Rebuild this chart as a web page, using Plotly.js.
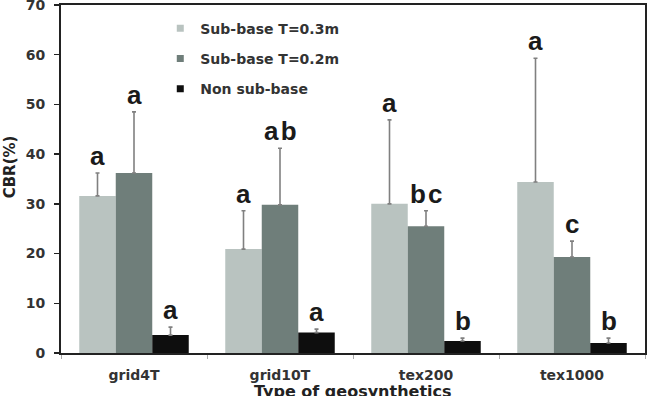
<!DOCTYPE html>
<html>
<head>
<meta charset="utf-8">
<script src="https://cdn.plot.ly/plotly-3.0.1.min.js"></script>
<style>
  html, body { margin: 0; padding: 0; background: #fff; }
  #chart { width: 651px; height: 396px; }
</style>
</head>
<body>
<div id="chart"></div>
<script>
// Geosynthetic types on the x axis
const categories = ['grid4T', 'grid10T', 'tex200', 'tex1000'];

// Series names
const seriesNames = ['Sub-base T=0.3m', 'Sub-base T=0.2m', 'Non sub-base'];

// Mean CBR (%) per series
const cbrThick = [31.6, 20.9, 30.0, 34.4];
const cbrThin = [36.2, 29.8, 25.5, 19.3];
const cbrNone = [3.6, 4.1, 2.4, 2.0];

// Upper error (standard deviation) per series
const errThick = [4.6, 7.7, 16.9, 24.9];
const errThin = [12.3, 11.4, 3.1, 3.2];
const errNone = [1.6, 0.7, 0.6, 1.0];

// Significance groupings printed over each bar
const sigThick = ['a', 'a', 'a', 'a'];
const sigThin = ['a', 'ab', 'bc', 'c'];
const sigNone = ['a', 'a', 'b', 'b'];

const colors = ['#b9c3c0', '#6f7e7a', '#0e0e0e'];
const errColor = '#808080';

const means = [cbrThick, cbrThin, cbrNone];
const errs = [errThick, errThin, errNone];
const sigs = [sigThick, sigThin, sigNone];

const traces = [];
means.forEach((vals, s) => {
  traces.push({
    type: 'bar',
    name: seriesNames[s],
    x: categories,
    y: vals,
    marker: { color: colors[s], line: { width: 0 } },
    error_y: {
      type: 'data', array: errs[s], arrayminus: vals.map(() => 0),
      symmetric: false, color: errColor, thickness: 1.6, width: 2
    },
    showlegend: false,
    hoverinfo: 'x+y'
  });
});

// Legend entries with small square swatches
seriesNames.forEach((name, s) => {
  traces.push({
    type: 'scatter', mode: 'markers', name: name,
    x: [null], y: [null],
    marker: { symbol: 'square', size: 7, color: colors[s] },
    legendgroup: 'g' + s,
    hoverinfo: 'skip'
  });
});

// Letters above each error bar, positioned on the category axis
const barWidth = 0.25;
const annotations = [];
means.forEach((vals, s) => {
  const offset = (s - 1) * barWidth;
  vals.forEach((v, i) => {
    annotations.push({
      xref: 'x', yref: 'y',
      x: i + offset, y: v + errs[s][i],
      text: sigs[s][i].split('').join('\u200A'),
      showarrow: false,
      yanchor: 'bottom', yshift: 0,
      font: { family: 'Liberation Sans, Arial, sans-serif', size: 26, color: '#1a1a1a', weight: 'bold' }
    });
  });
});

// Y axis label, rotated, to the left of the tick labels
annotations.push({
  xref: 'paper', yref: 'paper',
  x: -0.087, y: 0.534,
  text: 'CBR(%)', textangle: -90, showarrow: false,
  xanchor: 'center', yanchor: 'middle',
  font: { family: 'DejaVu Sans, sans-serif', size: 15, color: '#222', weight: 'bold' }
});

// X axis label, below the category names at the bottom edge
annotations.push({
  xref: 'paper', yref: 'paper',
  x: 0.5, y: -0.077,
  text: 'Type of geosynthetics', showarrow: false,
  xanchor: 'center', yanchor: 'top',
  font: { family: 'DejaVu Sans, sans-serif', size: 16, color: '#222', weight: 'bold' }
});

const tickFont = { family: 'DejaVu Sans, sans-serif', size: 14, color: '#333', weight: 'bold' };

const layout = {
  width: 651, height: 396,
  margin: { l: 61, r: 6, t: 5, b: 43 },
  paper_bgcolor: '#fff', plot_bgcolor: '#fff',
  barmode: 'group', bargap: 0.25, bargroupgap: 0,
  showlegend: true,
  legend: {
    x: 0.17, y: 0.978, xanchor: 'left', yanchor: 'top',
    bgcolor: 'rgba(0,0,0,0)', borderwidth: 0,
    traceorder: 'grouped', tracegroupgap: 9,
    font: { family: 'DejaVu Sans, sans-serif', size: 14, color: '#333', weight: 'bold' }
  },
  xaxis: {
    type: 'category',
    tickfont: { family: 'DejaVu Sans, sans-serif', size: 14, color: '#333', weight: 'bold' },
    ticks: 'outside', tickson: 'boundaries', ticklen: 4, tickcolor: '#aaa', tickwidth: 1,
    ticklabelstandoff: 8,
    showline: true, linecolor: '#222', linewidth: 2, mirror: true,
    showgrid: false, zeroline: false
  },
  yaxis: {
    range: [0, 70], dtick: 10, tick0: 0,
    tickfont: tickFont,
    ticks: 'outside', ticklen: 5, tickwidth: 1.5, tickcolor: '#222',
    ticklabelstandoff: 6, ticklabeloverflow: 'allow',
    showline: true, linecolor: '#222', linewidth: 2, mirror: true,
    showgrid: false, zeroline: false
  },
  annotations: annotations
};

Plotly.newPlot('chart', traces, layout, { staticPlot: true, displayModeBar: false });
</script>
</body>
</html>
